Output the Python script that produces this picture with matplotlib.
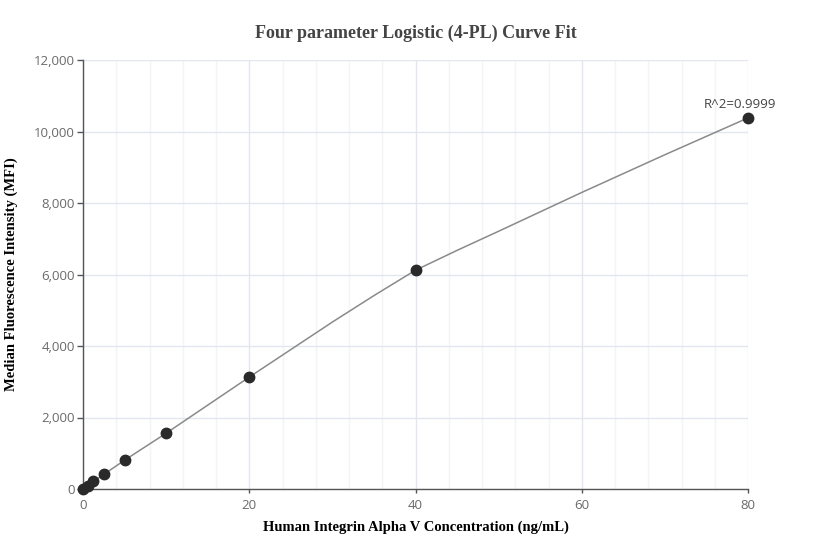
import matplotlib.pyplot as plt
import numpy as np
from matplotlib.ticker import FuncFormatter, MultipleLocator

# standards (ng/mL) and measured MFI
conc = [0, 0.625, 1.25, 2.5, 5, 10, 20, 40, 80]
mfi = [10, 90, 210, 410, 805, 1560, 3130, 6120, 10380]

# fitted 4-PL curve
curve_x = [0, 5, 10, 20, 30, 35, 40, 45, 50, 60, 70, 80]
curve_y = [10, 805, 1560, 3130, 4670, 5410, 6120, 6675, 7210, 8295, 9350, 10380]

r2_text = "R^2=0.9999"

fig = plt.figure(figsize=(8.32, 5.6), dpi=100)
ax = fig.add_axes([83/832, 1 - 489/560, 665/832, 429/560])

ax.plot(curve_x, curve_y, color='#8a8a8a', lw=1.1, zorder=2)
ax.plot(conc, mfi, 'o', color='#2a2a2a', ms=7.5, zorder=3, clip_on=False)

ax.set_xlim(0, 80)
ax.set_ylim(0, 12000)
ax.xaxis.set_major_locator(MultipleLocator(20))
ax.xaxis.set_minor_locator(MultipleLocator(4))
ax.yaxis.set_major_locator(MultipleLocator(2000))
ax.yaxis.set_major_formatter(FuncFormatter(lambda v, p: f'{int(v):,}'))

ax.grid(True, which='major', color='#e3e6ef', lw=1, zorder=0)
ax.grid(True, which='minor', axis='x', color='#f2f4f9', lw=1, zorder=0)
ax.set_axisbelow(True)

for s in ['top', 'right']:
    ax.spines[s].set_visible(False)
for s in ['left', 'bottom']:
    ax.spines[s].set_color('#555555')
    ax.spines[s].set_linewidth(1)

ax.tick_params(axis='both', which='major', labelsize=9.5, labelcolor='#6a6a6a',
               color='#555555', length=4, width=1, pad=2)
ax.tick_params(axis='x', which='major', length=3, pad=4)
ax.tick_params(which='minor', length=0)
for lab in ax.get_xticklabels() + ax.get_yticklabels():
    lab.set_family('Open Sans')

ax.annotate(r2_text, (conc[-1], mfi[-1]), xytext=(-6, 5), textcoords='offset points',
            ha='center', va='bottom', fontsize=9.5, color='#444444', family='Open Sans')

fig.text(416/832, 1 - 33/560, 'Four parameter Logistic (4-PL) Curve Fit', ha='center', va='center',
         fontsize=13, fontweight='bold', family='Liberation Serif', color='#444444')
ax.set_xlabel('Human Integrin Alpha V Concentration (ng/mL)', fontsize=10.5, fontweight='bold',
              family='Liberation Serif', color='black', labelpad=6)
ax.set_ylabel('Median Fluorescence Intensity (MFI)', fontsize=10.5, fontweight='bold',
              family='Liberation Serif', color='black', labelpad=11)

fig.savefig('out.png', dpi=100)
